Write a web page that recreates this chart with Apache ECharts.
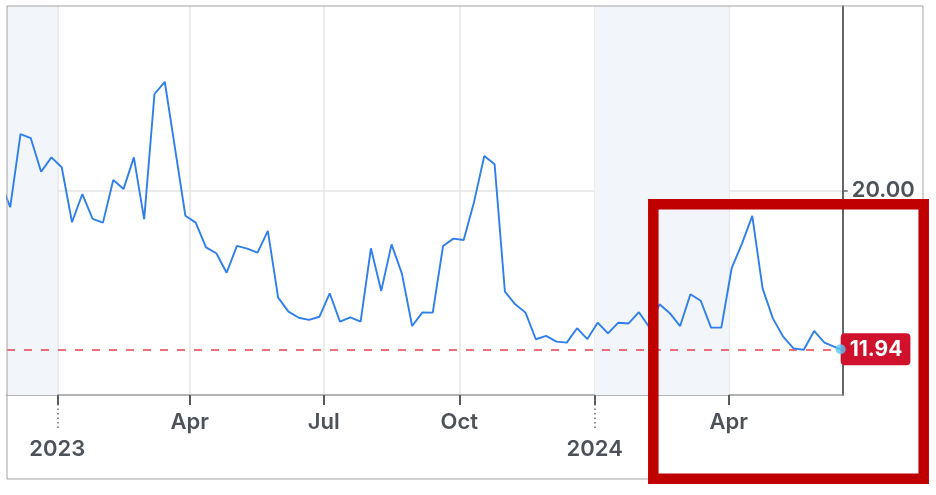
<!DOCTYPE html>
<html>
<head>
<meta charset="utf-8">
<script src="https://cdn.jsdelivr.net/npm/echarts@6/dist/echarts.min.js"></script>
<style>
  html, body { margin: 0; padding: 0; background: #ffffff; }
  #chart { width: 936px; height: 495px; }
</style>
</head>
<body>
<div id="chart"></div>
<script>
// Weekly observations (Wednesdays), plus the latest reading on the final date
var dates = [
  '2022-11-23','2022-11-30','2022-12-07','2022-12-14','2022-12-21','2022-12-28',
  '2023-01-04','2023-01-11','2023-01-18','2023-01-25','2023-02-01','2023-02-08','2023-02-15','2023-02-22',
  '2023-03-01','2023-03-08','2023-03-15','2023-03-22','2023-03-29','2023-04-05','2023-04-12','2023-04-19','2023-04-26',
  '2023-05-03','2023-05-10','2023-05-17','2023-05-24','2023-05-31','2023-06-07','2023-06-14','2023-06-21','2023-06-28',
  '2023-07-05','2023-07-12','2023-07-19','2023-07-26','2023-08-02','2023-08-09','2023-08-16','2023-08-23','2023-08-30',
  '2023-09-06','2023-09-13','2023-09-20','2023-09-27','2023-10-04','2023-10-11','2023-10-18','2023-10-25',
  '2023-11-01','2023-11-08','2023-11-15','2023-11-22','2023-11-29','2023-12-06','2023-12-13','2023-12-20','2023-12-27',
  '2024-01-03','2024-01-10','2024-01-17','2024-01-24','2024-01-31','2024-02-07','2024-02-14','2024-02-21','2024-02-28',
  '2024-03-06','2024-03-13','2024-03-20','2024-03-27','2024-04-03','2024-04-10','2024-04-17','2024-04-24',
  '2024-05-01','2024-05-08','2024-05-15','2024-05-22','2024-05-29','2024-06-05','2024-06-16'
];
var values = [
  20.50,19.14,22.85,22.64,20.94,21.67,
  21.17,18.38,19.81,18.55,18.36,20.52,20.07,21.67,
  18.53,24.88,25.50,22.10,18.71,18.36,17.11,16.81,15.82,
  17.18,17.04,16.84,17.94,14.56,13.85,13.54,13.43,13.59,
  14.78,13.34,13.56,13.34,17.06,14.90,17.26,15.79,13.12,
  13.81,13.80,17.18,17.55,17.48,19.40,21.74,21.32,
  14.86,14.22,13.80,12.45,12.62,12.33,12.28,13.01,12.46,
  13.29,12.75,13.29,13.25,13.82,13.07,14.22,13.77,13.12,
  14.73,14.40,13.04,13.04,16.05,17.30,18.70,15.03,
  13.51,12.58,11.99,11.92,12.87,12.28,11.94
];

// Axis ticks and labels
var quarterTicks = ['2023-01-01','2023-04-01','2023-07-01','2023-10-01','2024-01-01','2024-04-01'];
var quarterLabels = ['', 'Apr', 'Jul', 'Oct', '', 'Apr'];
var yearTicks = ['2023-01-01','2024-01-01'];
var yearLabels = ['2023', '2024'];
var valueTicks = [20];

// Highlighted periods behind the line
var shadedPeriods = [
  ['2022-11-27', '2023-01-01'],
  ['2024-01-01', '2024-04-01']
];

var xRange = ['2022-11-27 20:00', '2024-06-17 10:00'];
var yRange = [9.625, 29.34];

var toTime = function (s) { return echarts.time.parse(s).getTime(); };
var quarterTimes = quarterTicks.map(toTime);
var yearTimes = yearTicks.map(toTime);

var lastIndex = values.length - 1;
var seriesData = dates.map(function (d, i) {
  return [toTime(d), values[i]];
});

var labelFont = {
  fontFamily: 'Inter',
  fontWeight: 600,
  fontSize: 22,
  color: '#4d5258'
};

function pickLabel(times, labels) {
  return function (v) {
    for (var i = 0; i < times.length; i++) {
      if (Math.abs(times[i] - v) < 1000) return labels[i];
    }
    return '';
  };
}

var chart = echarts.init(document.getElementById('chart'), null, { renderer: 'canvas' });

chart.setOption({
  animation: false,
  backgroundColor: '#ffffff',
  grid: { left: 7, top: 6, right: 93.3, bottom: 100 },
  xAxis: [
    {
      type: 'value',
      min: toTime(xRange[0]),
      max: toTime(xRange[1]),
      axisLine: { show: true, lineStyle: { color: '#9a9a9a', width: 1.6 } },
      axisTick: {
        show: true, length: 10, customValues: quarterTimes,
        lineStyle: { color: '#555a60', width: 2 }
      },
      axisLabel: Object.assign({
        customValues: quarterTimes,
        margin: 16,
        formatter: pickLabel(quarterTimes, quarterLabels)
      }, labelFont),
      splitLine: { show: true, lineStyle: { color: '#e4e4e4', width: 1.5 } }
    },
    {
      type: 'value',
      position: 'bottom',
      min: toTime(xRange[0]),
      max: toTime(xRange[1]),
      axisLine: { show: false },
      axisTick: {
        show: true, length: 34, customValues: yearTimes,
        lineStyle: { color: '#6a6e73', width: 1.5, type: [1.5, 3] }
      },
      axisLabel: Object.assign({
        customValues: yearTimes,
        margin: 43,
        formatter: pickLabel(yearTimes, yearLabels)
      }, labelFont),
      splitLine: { show: false }
    }
  ],
  yAxis: {
    type: 'value',
    position: 'right',
    min: yRange[0],
    max: yRange[1],
    axisLine: { show: true, lineStyle: { color: '#62666b', width: 2 } },
    axisTick: {
      show: true, length: 5, customValues: valueTicks,
      lineStyle: { color: '#62666b', width: 1.5 }
    },
    axisLabel: Object.assign({
      customValues: valueTicks,
      margin: 9,
      formatter: function (v) { return v.toFixed(2); }
    }, labelFont),
    splitLine: { show: true, lineStyle: { color: '#e4e4e4', width: 1.5 } }
  },
  series: [
    {
      type: 'line',
      xAxisIndex: 0,
      data: seriesData,
      showSymbol: false,
      symbol: 'none',
      clip: true,
      z: 5,
      lineStyle: { color: '#2f7fec', width: 1.9 },
      itemStyle: { color: '#2f7fec' },
      markArea: {
        silent: true,
        itemStyle: { color: '#f2f5f9' },
        data: shadedPeriods.map(function (p) {
          return [{ xAxis: toTime(p[0]) }, { xAxis: toTime(p[1]) }];
        })
      },
      markLine: {
        silent: true,
        symbol: 'none',
        lineStyle: { color: '#e8424f', width: 1.5, type: [8, 9] },
        label: {
          show: true,
          position: 'end',
          distance: -2,
          formatter: function (p) { return p.value.toFixed(2); },
          backgroundColor: '#d0112b',
          color: '#ffffff',
          fontFamily: 'Inter',
          fontWeight: 'bold',
          fontSize: 21,
          lineHeight: 22,
          padding: [5, 8, 5, 9],
          borderRadius: 4
        },
        data: [{ yAxis: values[lastIndex] }]
      }
    },
    {
      // latest reading marker, drawn above the value tag
      type: 'scatter',
      xAxisIndex: 0,
      z: 20,
      symbol: 'circle',
      symbolSize: 10,
      itemStyle: { color: '#5ac8fa' },
      data: [seriesData[lastIndex]]
    }
  ],
  graphic: [
    {
      type: 'rect',
      z: 100,
      silent: true,
      shape: { x: 7, y: 6, width: 916, height: 473 },
      style: { fill: 'none', stroke: '#a3a3a3', lineWidth: 1 }
    },
    {
      type: 'rect',
      z: 110,
      silent: true,
      shape: { x: 653.3, y: 204.2, width: 270.4, height: 274.6 },
      style: { fill: 'none', stroke: '#c00000', lineWidth: 10.5 }
    }
  ]
});
</script>
</body>
</html>
